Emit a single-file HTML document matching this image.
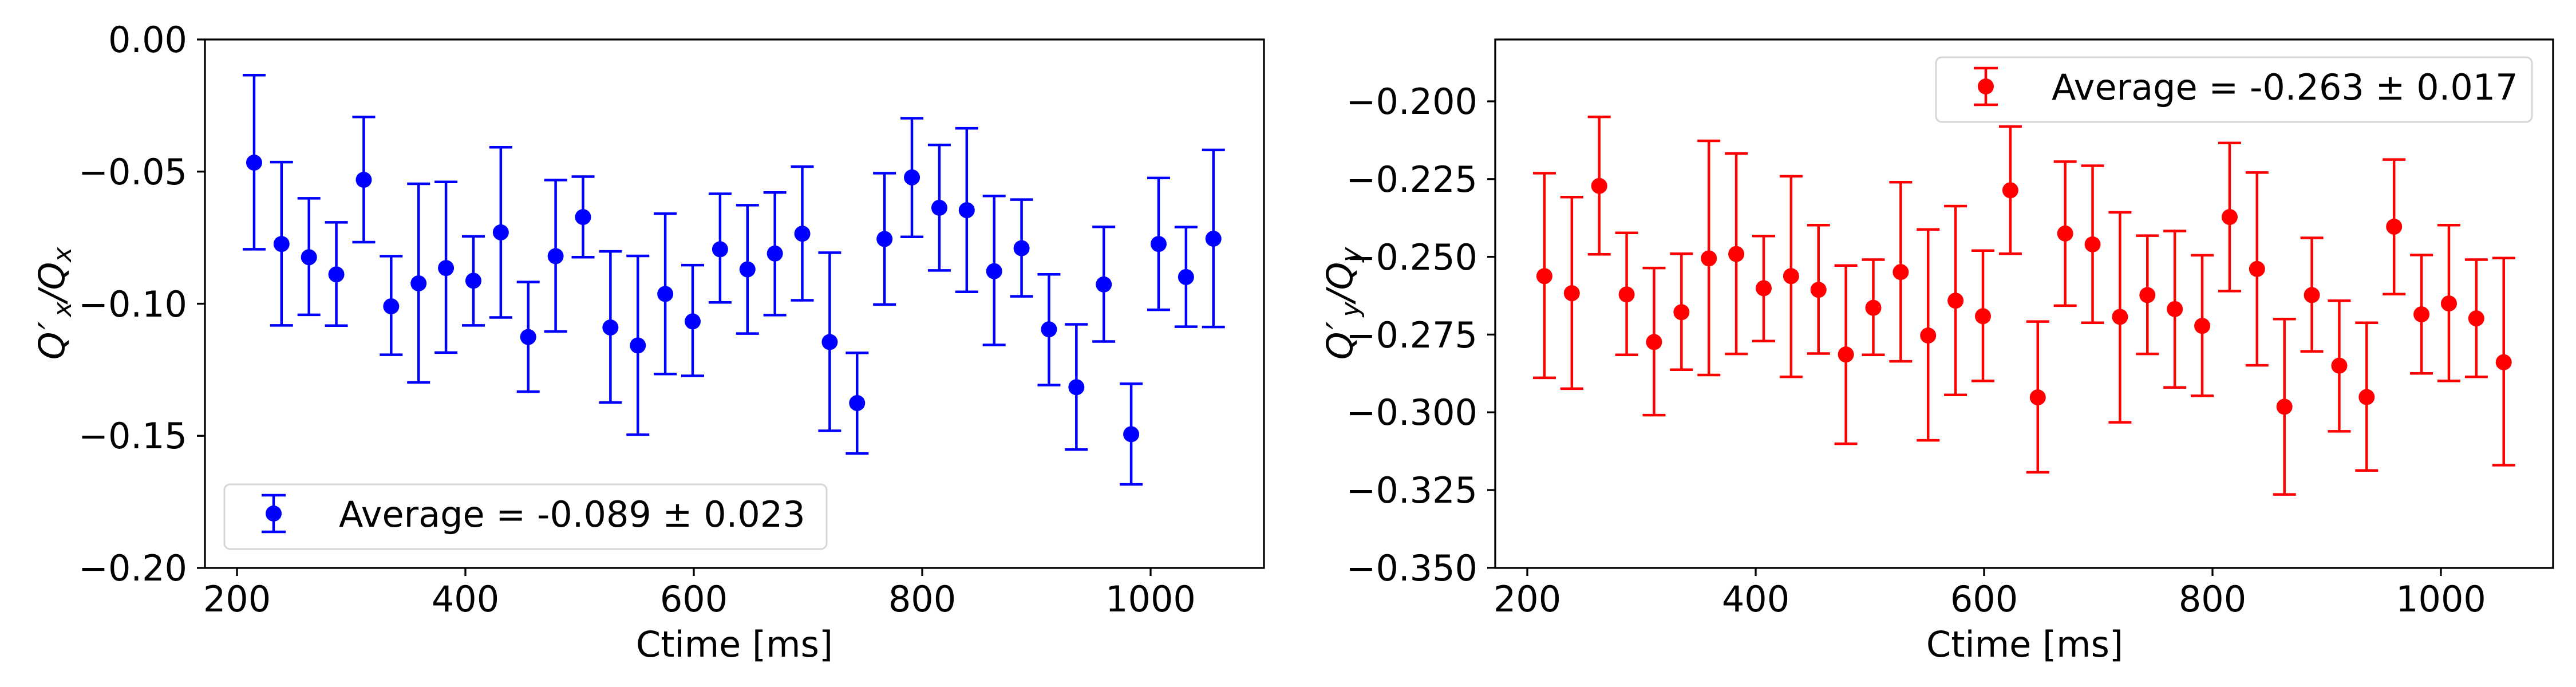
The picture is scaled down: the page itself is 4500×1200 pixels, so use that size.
<!DOCTYPE html>
<html><head><meta charset="utf-8"><style>
html,body{margin:0;padding:0;background:#fff;}
svg{display:block;}
text{font-family:"DejaVu Sans","Liberation Sans",sans-serif;font-size:62px;fill:#000;}
</style></head><body>
<svg id="s" width="4500" height="1200" viewBox="0 0 4500 1200" xmlns="http://www.w3.org/2000/svg">
<rect width="4500" height="1200" fill="#fff"/>
<g id="L"></g><g id="R"></g>
<rect x="358" y="69" width="1850" height="923" fill="none" stroke="#000" stroke-width="3.3"/>
<g stroke="#000" stroke-width="3.3">
<line x1="344" y1="69" x2="358" y2="69"/><line x1="344" y1="299.75" x2="358" y2="299.75"/>
<line x1="344" y1="530.5" x2="358" y2="530.5"/><line x1="344" y1="761.25" x2="358" y2="761.25"/>
<line x1="344" y1="992" x2="358" y2="992"/>
<line x1="414" y1="992" x2="414" y2="1006"/><line x1="813" y1="992" x2="813" y2="1006"/>
<line x1="1212" y1="992" x2="1212" y2="1006"/><line x1="1611" y1="992" x2="1611" y2="1006"/>
<line x1="2010" y1="992" x2="2010" y2="1006"/>
</g>
<g text-anchor="end">
<text x="327" y="91">0.00</text><text x="327" y="322">−0.05</text>
<text x="327" y="553">−0.10</text><text x="327" y="783">−0.15</text><text x="327" y="1014">−0.20</text>
</g>
<g text-anchor="middle">
<text x="414" y="1068">200</text><text x="813" y="1068">400</text><text x="1212" y="1068">600</text>
<text x="1611" y="1068">800</text><text x="2010" y="1068">1000</text>
<text x="1283" y="1147">Ctime [ms]</text>
</g>
<text transform="translate(112,530) rotate(-90)" text-anchor="middle" font-style="italic">Q<tspan dx="4">′</tspan><tspan font-size="44" dy="12" dx="8">x</tspan><tspan dy="-12">/Q</tspan><tspan font-size="44" dy="12">x</tspan></text>
<rect x="392" y="846" width="1052" height="113" rx="10" fill="#fff" fill-opacity="0.8" stroke="#d6d6d6" stroke-width="3"/>
<g stroke="#0000ff" stroke-width="4.5"><line x1="478" y1="865" x2="478" y2="929"/><line x1="457" y1="865" x2="499" y2="865"/><line x1="457" y1="929" x2="499" y2="929"/></g>
<circle cx="478" cy="897" r="14" fill="#0000ff"/>
<text x="592" y="920">Average = -0.089 ± 0.023</text>

<rect x="2612" y="69" width="1848" height="923" fill="none" stroke="#000" stroke-width="3.3"/>
<g stroke="#000" stroke-width="3.3" id="rt"></g>
<g text-anchor="end">
<text x="2581" y="199">−0.200</text><text x="2581" y="335">−0.225</text><text x="2581" y="471">−0.250</text>
<text x="2581" y="607">−0.275</text><text x="2581" y="742">−0.300</text><text x="2581" y="878">−0.325</text>
<text x="2581" y="1014">−0.350</text>
</g>
<g text-anchor="middle">
<text x="2668" y="1068">200</text><text x="3067" y="1068">400</text><text x="3466" y="1068">600</text>
<text x="3865" y="1068">800</text><text x="4264" y="1068">1000</text>
<text x="3537" y="1147">Ctime [ms]</text>
</g>
<text transform="translate(2362,530) rotate(-90)" text-anchor="middle" font-style="italic">Q<tspan dx="4">′</tspan><tspan font-size="44" dy="12" dx="8">y</tspan><tspan dy="-12">/Q</tspan><tspan font-size="44" dy="12">y</tspan></text>
<rect x="3382" y="100" width="1041" height="113" rx="10" fill="#fff" fill-opacity="0.8" stroke="#d6d6d6" stroke-width="3"/>
<g stroke="#ff0000" stroke-width="4.5"><line x1="3469" y1="119" x2="3469" y2="183"/><line x1="3448" y1="119" x2="3490" y2="119"/><line x1="3448" y1="183" x2="3490" y2="183"/></g>
<circle cx="3469" cy="151" r="14" fill="#ff0000"/>
<text x="3584" y="174">Average = -0.263 ± 0.017</text>
</svg>
<script>
var NS="http://www.w3.org/2000/svg";
function el(p,n,a){var e=document.createElementNS(NS,n);for(var k in a)e.setAttribute(k,a[k]);p.appendChild(e);return e;}
var Ld=[[-0.0466,-0.0135,-0.0794],[-0.0774,-0.0464,-0.1082],[-0.0824,-0.0601,-0.1042],[-0.0889,-0.0692,-0.1083],[-0.0531,-0.0293,-0.0767],[-0.1010,-0.0820,-0.1193],[-0.0923,-0.0546,-0.1298],[-0.0865,-0.0539,-0.1185],[-0.0913,-0.0745,-0.1082],[-0.0730,-0.0408,-0.1052],[-0.1126,-0.0918,-0.1333],[-0.0820,-0.0532,-0.1105],[-0.0672,-0.0519,-0.0824],[-0.1090,-0.0802,-0.1374],[-0.1158,-0.0819,-0.1496],[-0.0963,-0.0659,-0.1266],[-0.1067,-0.0854,-0.1273],[-0.0794,-0.0584,-0.0995],[-0.0870,-0.0627,-0.1113],[-0.0810,-0.0579,-0.1043],[-0.0735,-0.0481,-0.0987],[-0.1145,-0.0807,-0.1481],[-0.1376,-0.1186,-0.1567],[-0.0755,-0.0506,-0.1003],[-0.0522,-0.0298,-0.0747],[-0.0637,-0.0399,-0.0874],[-0.0646,-0.0336,-0.0955],[-0.0877,-0.0592,-0.1156],[-0.0790,-0.0606,-0.0972],[-0.1097,-0.0889,-0.1308],[-0.1316,-0.1078,-0.1552],[-0.0927,-0.0709,-0.1143],[-0.1494,-0.1303,-0.1684],[-0.0774,-0.0524,-0.1023],[-0.0899,-0.0710,-0.1087],[-0.0754,-0.0418,-0.1088]];
var Rd=[[-0.2562,-0.2231,-0.2889],[-0.2617,-0.2308,-0.2924],[-0.2272,-0.2050,-0.2492],[-0.2621,-0.2423,-0.2815],[-0.2774,-0.2536,-0.3009],[-0.2678,-0.2490,-0.2863],[-0.2505,-0.2127,-0.2880],[-0.2491,-0.2168,-0.2812],[-0.2601,-0.2433,-0.2771],[-0.2562,-0.2241,-0.2886],[-0.2606,-0.2398,-0.2811],[-0.2814,-0.2528,-0.3101],[-0.2664,-0.2509,-0.2815],[-0.2549,-0.2260,-0.2836],[-0.2753,-0.2412,-0.3090],[-0.2641,-0.2337,-0.2944],[-0.2691,-0.2480,-0.2899],[-0.2286,-0.2081,-0.2490],[-0.2952,-0.2708,-0.3193],[-0.2425,-0.2194,-0.2657],[-0.2460,-0.2207,-0.2712],[-0.2693,-0.2357,-0.3032],[-0.2623,-0.2432,-0.2812],[-0.2668,-0.2417,-0.2920],[-0.2722,-0.2495,-0.2947],[-0.2372,-0.2134,-0.2610],[-0.2539,-0.2229,-0.2849],[-0.2982,-0.2700,-0.3264],[-0.2623,-0.2439,-0.2804],[-0.2850,-0.2641,-0.3061],[-0.2951,-0.2712,-0.3187],[-0.2403,-0.2187,-0.2620],[-0.2685,-0.2494,-0.2875],[-0.2650,-0.2398,-0.2899],[-0.2698,-0.2509,-0.2886],[-0.2839,-0.2504,-0.3170]];
function draw(g,data,x0,yf,col){for(var i=0;i<data.length;i++){var t=215+24*i,x=x0+(t-200)*1.995;var c=yf(data[i][0]),a=yf(data[i][1]),b=yf(data[i][2]);
el(g,"line",{x1:x,y1:a,x2:x,y2:b,stroke:col,"stroke-width":4.5});
el(g,"line",{x1:x-20,y1:a,x2:x+20,y2:a,stroke:col,"stroke-width":4.5});
el(g,"line",{x1:x-20,y1:b,x2:x+20,y2:b,stroke:col,"stroke-width":4.5});
el(g,"circle",{cx:x,cy:c,r:14,fill:col});}}
draw(document.getElementById("L"),Ld,414,function(v){return 69+(-v)/0.2*923;},"#0000ff");
draw(document.getElementById("R"),Rd,2668,function(v){return 177+(-0.2-v)/0.025*135.8;},"#ff0000");
var rt=document.getElementById("rt");
for(var k=0;k<7;k++){var y=177+k*135.8;el(rt,"line",{x1:2598,y1:y,x2:2612,y2:y});}
for(var k=0;k<5;k++){var x=2668+k*399;el(rt,"line",{x1:x,y1:992,x2:x,y2:1006});}
</script>
</body></html>
